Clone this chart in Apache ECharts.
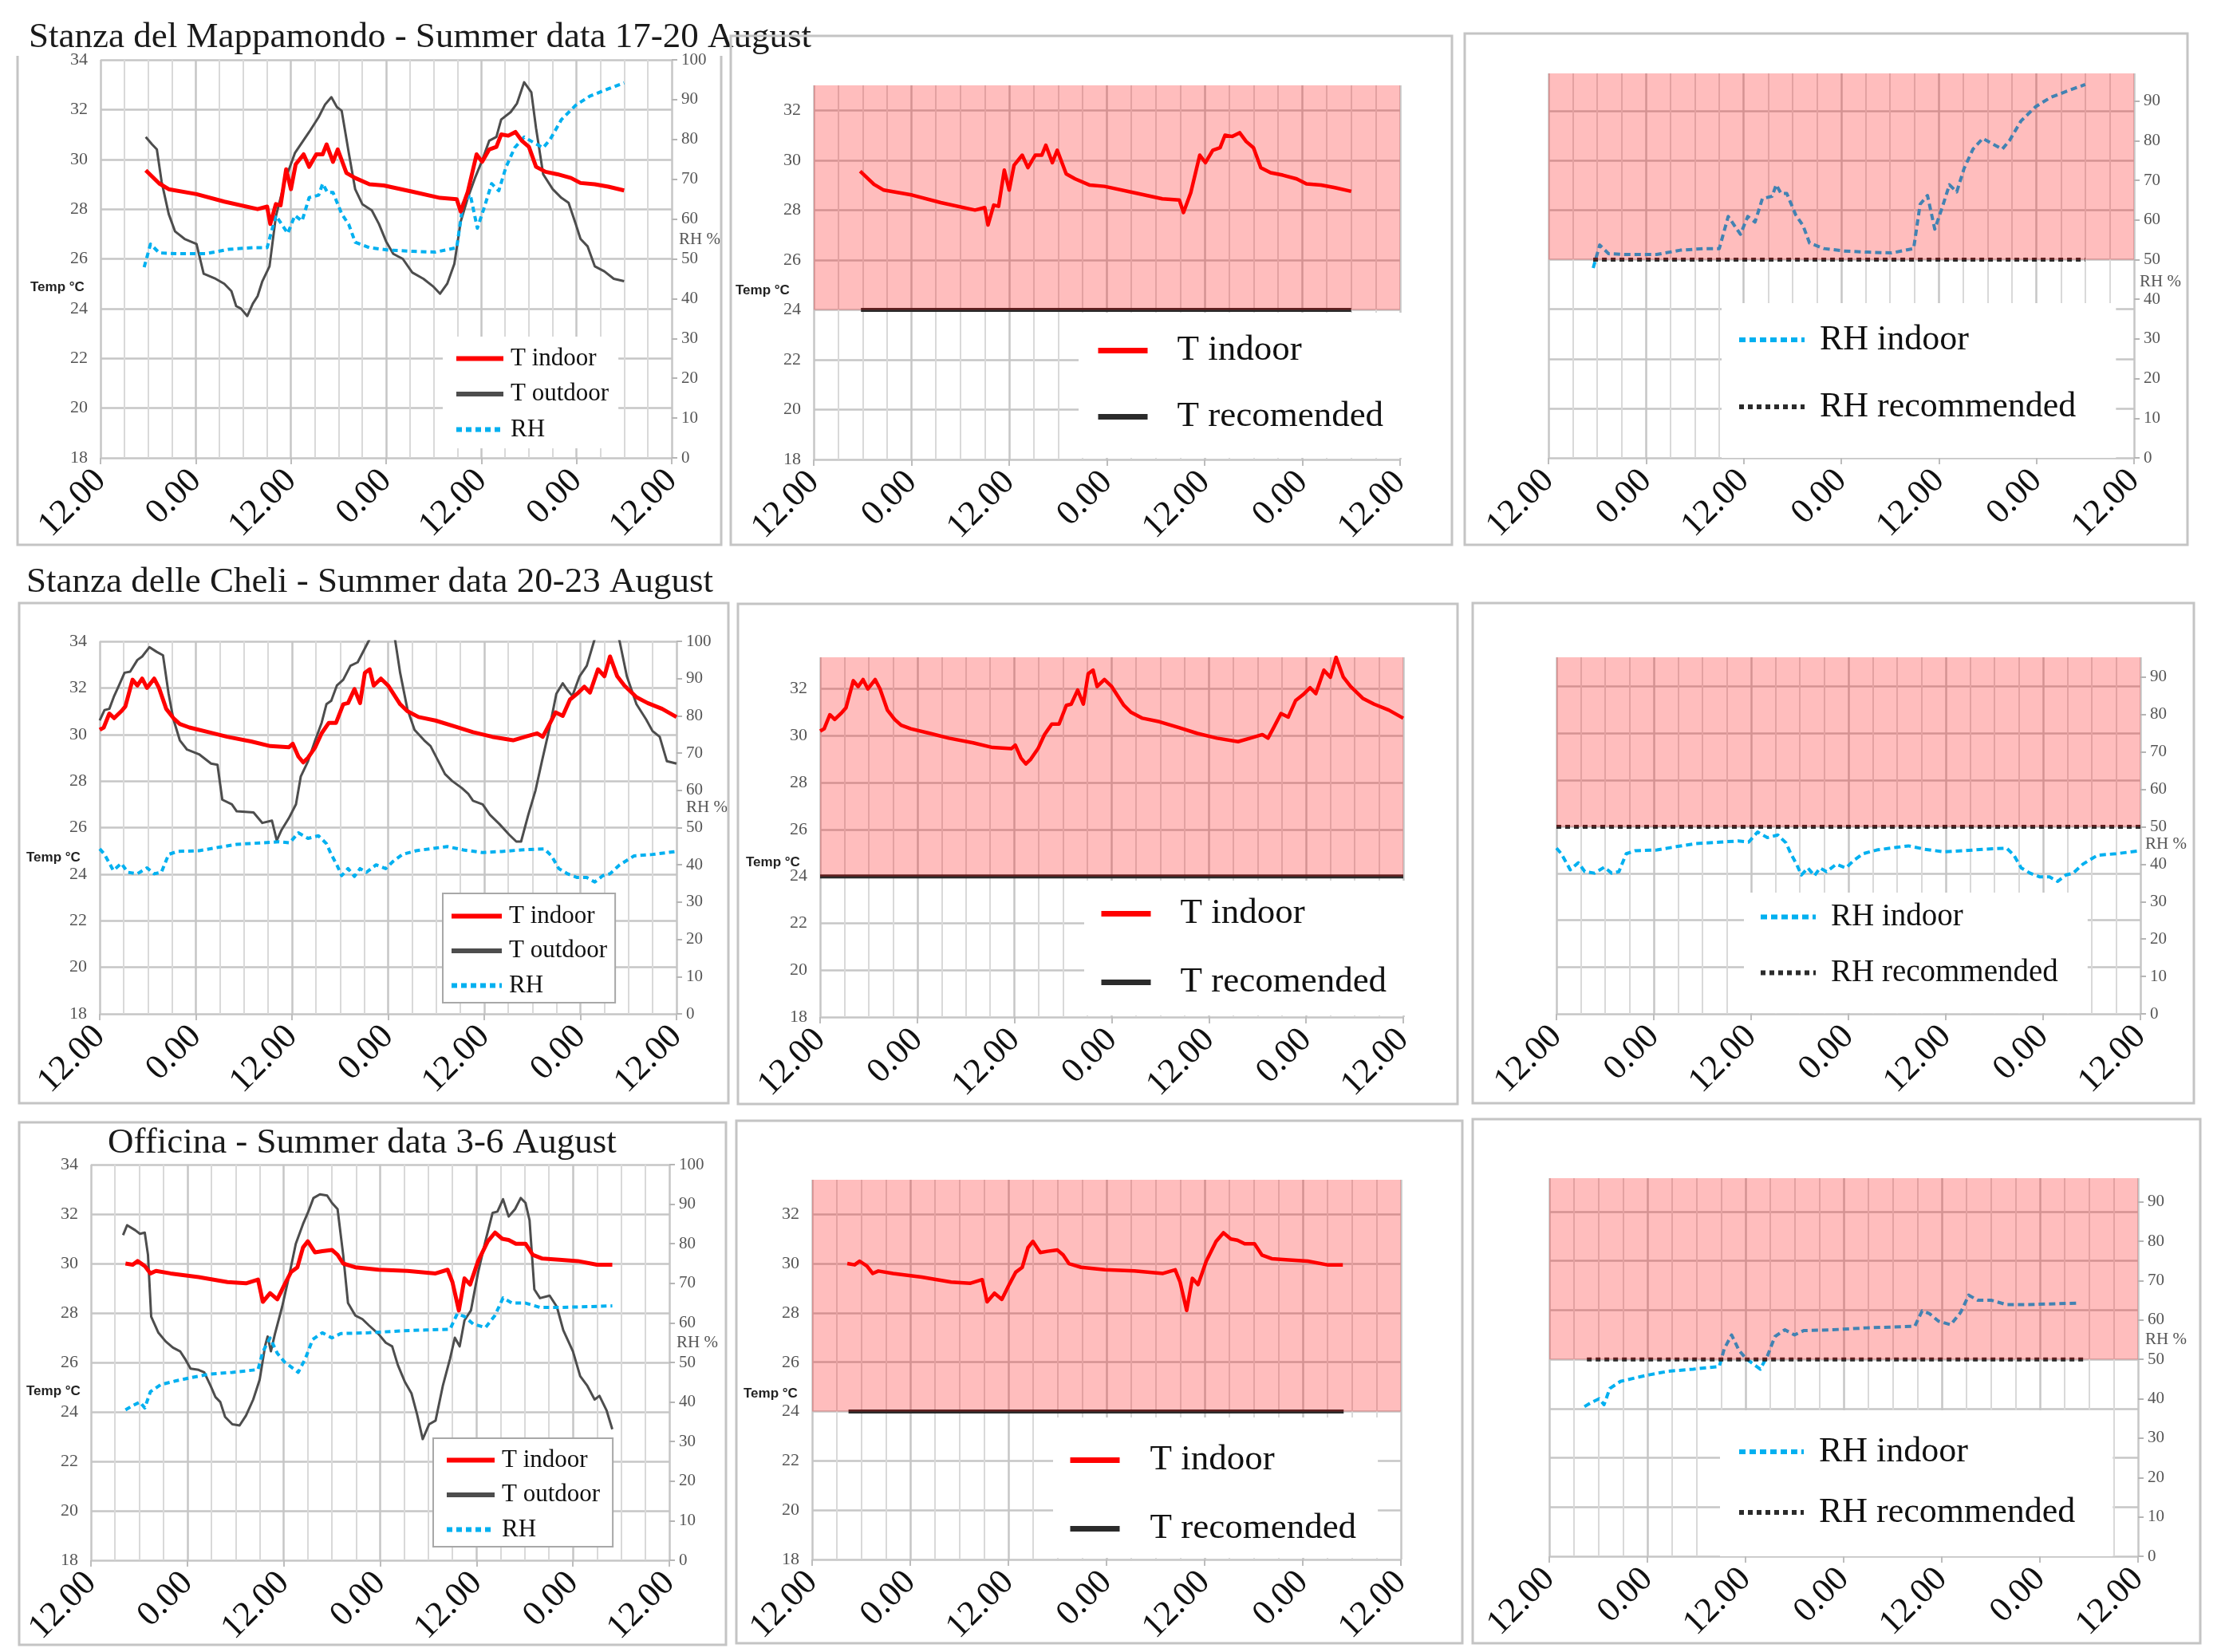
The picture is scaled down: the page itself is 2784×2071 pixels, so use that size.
<!DOCTYPE html>
<html>
<head>
<meta charset="utf-8">
<script src="https://cdn.jsdelivr.net/npm/echarts@6.0.0/dist/echarts.min.js"></script>
<style>html,body{margin:0;padding:0;background:#fff}#c{width:2784px;height:2071px}</style>
</head>
<body>
<div id="c"></div>
<script>
// ---------------- DATA ----------------
const xTickLabels = ['12.00','0.00','12.00','0.00','12.00','0.00','12.00'];
const titles = [
  'Stanza del Mappamondo - Summer data 17-20 August',
  'Stanza delle Cheli - Summer data 20-23 August',
  'Officina - Summer data 3-6 August'
];
const legendLeftNames = ['T indoor','T outdoor','RH'];
const legendMidNames = ['T indoor','T recomended'];
const legendRightNames = ['RH indoor','RH recommended'];
const tRecommended = 24;
const rhRecommended = 50;

// Stanza del Mappamondo (hours from 12:00 of first day)
const mappamondoTin = [[5.7,29.56],[7.4,29.03],[8.6,28.8],[12.1,28.6],[15.6,28.3],[19.8,28.0],[21,28.1],[21.4,27.4],[22.1,28.2],[22.7,28.15],[23.4,29.6],[24,28.8],[24.6,29.8],[25.6,30.2],[26.3,29.7],[27.2,30.2],[28,30.2],[28.5,30.6],[29.3,29.9],[29.9,30.4],[31,29.45],[32.1,29.25],[33.9,29.0],[35.7,28.95],[39.3,28.7],[42.8,28.45],[44.9,28.4],[45.4,27.9],[46.3,28.7],[47.4,30.2],[48.1,29.9],[49,30.4],[49.9,30.5],[50.5,31.0],[51.4,30.95],[52.3,31.1],[53.1,30.75],[54,30.5],[54.9,29.7],[56.1,29.5],[57.6,29.4],[59.3,29.25],[60.5,29.05],[62.3,29.0],[64,28.9],[66,28.75]];
const mappamondoTout = [[5.7,30.9],[6.5,30.6],[7.1,30.4],[7.7,29.1],[8.6,27.8],[9.4,27.1],[10.6,26.8],[12.1,26.6],[13,25.4],[14.5,25.2],[15.6,25.0],[16.5,24.7],[17.1,24.1],[17.7,24.0],[18.5,23.7],[19.2,24.2],[19.8,24.5],[20.4,25.1],[21.3,25.7],[22.1,27.7],[23.3,29.2],[24.5,30.25],[26.3,31.1],[27.5,31.7],[28.3,32.2],[29.1,32.5],[29.8,32.1],[30.4,31.95],[31.3,30.25],[32.1,28.8],[33,28.2],[34.2,27.95],[35.1,27.4],[36,26.7],[36.9,26.2],[38.1,26.0],[39.3,25.45],[40.7,25.2],[41.9,24.9],[42.8,24.6],[43.7,25.0],[44.6,25.8],[45.4,27.5],[46.3,28.45],[47.2,29.25],[48.1,29.95],[49,30.75],[49.9,30.9],[50.5,31.6],[51.7,31.9],[52.5,32.25],[53.4,33.1],[54.3,32.7],[54.9,31.25],[55.8,29.4],[57,28.8],[58.1,28.45],[59,28.25],[59.9,27.4],[60.5,26.8],[61.4,26.5],[62.3,25.7],[63.5,25.5],[64.7,25.2],[66,25.1]];
const mappamondoRH = [[5.5,47.9],[6.3,53.7],[7.4,51.5],[9.7,51.3],[13.3,51.3],[16.2,52.4],[19.2,52.8],[21,52.8],[22.1,60.9],[23.6,56.4],[24.5,60.9],[25.4,59.5],[26.3,65.4],[27.5,66],[28,68.9],[28.6,66.7],[29.3,66.7],[30.4,61.3],[31.3,58.6],[32.1,54.2],[33.9,52.8],[36.3,52.2],[39.3,51.9],[42.2,51.7],[44.9,52.8],[45.7,64],[46.6,66.2],[47.5,57.7],[48.4,63.1],[49.3,68.9],[50.2,67.1],[51.1,73],[52.2,77.9],[53.4,80.6],[54.6,79.2],[55.8,77.9],[56.7,80.1],[58.1,85],[59.9,88.6],[61.7,90.9],[64,92.7],[66,94.2]];
const mappamondoTRecSpan = [5.8, 66];
const mappamondoRHRecSpan = [5.5, 66];
const mappamondoTBand = [24, 33];
const mappamondoRHBand = [50, 97];

// Stanza delle Cheli
const cheliTin = [[0,30.2],[0.5,30.3],[1.2,30.9],[1.8,30.7],[2.7,31.0],[3.2,31.2],[4.1,32.35],[4.7,32.1],[5.3,32.4],[5.9,32.0],[6.8,32.4],[7.4,32.0],[8.3,31.1],[9.2,30.7],[10,30.45],[11.2,30.3],[13.6,30.1],[15.9,29.9],[18.9,29.7],[21.3,29.5],[23.6,29.45],[24.1,29.6],[24.8,29.05],[25.4,28.8],[26,29.0],[26.9,29.45],[27.7,30.05],[28.6,30.5],[29.5,30.5],[30.4,31.3],[31,31.35],[31.8,31.95],[32.5,31.35],[33.1,32.65],[33.7,32.8],[34.2,32.1],[35.1,32.4],[36,32.1],[37.5,31.3],[38.4,31.0],[39.8,30.75],[41.9,30.6],[44.3,30.35],[46.6,30.1],[49,29.9],[51.6,29.75],[53.1,29.9],[54.6,30.05],[55.3,29.9],[56,30.35],[56.9,30.95],[57.8,30.8],[58.7,31.5],[59.6,31.75],[60.5,32.05],[61.2,31.8],[62.2,32.8],[63,32.5],[63.7,33.35],[64.6,32.5],[65.5,32.1],[67,31.6],[68.4,31.35],[70.2,31.1],[72,30.75]];
const cheliTout = [[0,30.6],[0.6,31.05],[1.2,31.1],[1.8,31.65],[2.4,32.1],[3.1,32.65],[3.8,32.7],[4.7,33.2],[5.3,33.35],[6.2,33.75],[7.1,33.55],[7.9,33.4],[8.6,31.75],[9.2,30.65],[10,29.75],[10.9,29.35],[12.4,29.15],[13.9,28.75],[14.7,28.7],[15.3,27.2],[16.5,27.0],[17.1,26.7],[19.2,26.65],[20.3,26.2],[21.5,26.3],[22.1,25.45],[22.7,25.9],[23.6,26.4],[24.5,27.0],[25.1,28.2],[26,28.85],[26.9,29.75],[27.7,30.5],[28.3,31.3],[28.9,31.45],[29.6,32.1],[30.4,32.35],[31.3,32.95],[32.2,33.1],[33.1,33.7],[34,34.3],[35.2,35.4],[36.3,35.0],[36.9,34.0],[37.5,32.65],[38.4,31.1],[39.3,30.2],[40.5,29.75],[41.3,29.5],[42.2,28.9],[43.1,28.3],[44,28.0],[45.2,27.7],[46,27.45],[46.6,27.15],[47.8,27.0],[48.7,26.55],[49.9,26.15],[51.1,25.7],[52,25.4],[52.6,25.4],[53.5,26.55],[54.4,27.6],[55.2,28.85],[56.1,30.2],[57,31.75],[57.8,32.2],[58.4,31.9],[59,31.65],[59.9,32.5],[60.8,32.95],[61.7,34.0],[62.8,35.2],[64,35.0],[64.9,34.0],[65.8,32.5],[67,31.3],[68.2,30.65],[69,30.15],[69.9,29.9],[70.8,28.85],[72,28.75]];
const cheliRH = [[0,44.3],[0.6,42.8],[1.7,38.5],[2.7,40.4],[3.5,38.0],[4.7,37.6],[5.9,39.2],[6.8,37.6],[7.7,38.0],[8.6,42.8],[9.7,43.6],[12.4,43.8],[14.8,44.7],[17.1,45.5],[20.1,45.9],[22.4,46.2],[23.7,45.9],[24.8,48.6],[26,47.1],[27.3,47.8],[28.3,45.7],[28.9,42.8],[29.6,40.0],[30.2,37.1],[31,39.0],[31.8,36.9],[32.5,39.0],[33.3,38.0],[34.5,40.0],[35.7,39.0],[36.6,40.9],[37.8,42.8],[39.5,43.8],[41.9,44.5],[43.4,44.9],[45.4,44.0],[47.8,43.3],[50.2,43.6],[52.6,44.0],[55.5,44.3],[56.4,42.4],[57.3,39.0],[58.4,37.6],[59.6,36.6],[60.8,36.6],[61.8,35.4],[62.8,37.1],[63.7,37.6],[64.9,40.0],[66.7,42.4],[69,42.8],[72,43.6]];
const cheliTRecSpan = [0, 72];
const cheliRHRecSpan = [0, 72];
const cheliTBand = [24, 33.35];
const cheliRHBand = [50, 95.3];

// Officina
const officinaTin = [[4.3,30.0],[5.2,29.95],[5.8,30.1],[6.7,29.9],[7.4,29.6],[8.1,29.7],[9.9,29.6],[13.4,29.45],[17,29.25],[19.3,29.2],[20.8,29.35],[21.4,28.45],[22.3,28.8],[23.2,28.55],[24.1,29.15],[24.9,29.65],[25.7,29.85],[26.4,30.65],[27,30.9],[27.9,30.45],[28.8,30.5],[30,30.55],[30.7,30.35],[31.4,30.0],[32.9,29.85],[35.8,29.75],[39.4,29.7],[42.9,29.6],[44.4,29.75],[45,29.25],[45.8,28.1],[46.5,29.4],[47.2,29.15],[48.2,30.1],[49.4,30.9],[50.3,31.25],[51.2,31.0],[52,30.95],[52.9,30.8],[54.1,30.8],[55,30.35],[56.2,30.2],[58.3,30.15],[60.6,30.1],[63,29.95],[64.9,29.95]];
const officinaTout = [[4,31.15],[4.5,31.55],[5.5,31.35],[6.1,31.2],[6.7,31.25],[7.1,30.35],[7.5,27.85],[8.4,27.2],[9.3,26.85],[10.2,26.6],[11.1,26.45],[11.7,26.15],[12.4,25.75],[13.4,25.7],[14.1,25.6],[14.9,25.05],[15.5,24.6],[16.1,24.4],[16.7,23.8],[17.6,23.5],[18.5,23.45],[19.3,23.85],[20.2,24.5],[21,25.3],[21.7,26.7],[22,27.05],[22.4,26.45],[22.9,27.15],[23.8,28.25],[24.6,29.4],[25.5,30.8],[26.4,31.6],[27,32.05],[27.7,32.65],[28.5,32.8],[29.4,32.75],[30,32.45],[30.7,32.2],[31.4,30.35],[32,28.4],[32.9,27.9],[33.8,27.75],[34.6,27.5],[35.8,27.15],[36.7,26.8],[37.5,26.65],[38.2,25.9],[39.1,25.2],[39.9,24.75],[40.6,23.9],[41.3,22.9],[42.1,23.5],[42.9,23.65],[43.8,25.05],[44.7,26.15],[45.3,27.0],[45.9,26.65],[46.5,27.7],[47.3,28.1],[48.2,29.65],[49.1,30.9],[50,32.05],[50.6,32.1],[51.3,32.6],[52,31.9],[52.8,32.2],[53.5,32.65],[54.1,32.45],[54.6,31.75],[55.2,28.95],[55.9,28.6],[57.1,28.7],[58,28.25],[58.8,27.3],[60,26.45],[60.9,25.45],[61.8,25.05],[62.7,24.5],[63.3,24.65],[64.2,24.05],[64.9,23.3]];
const officinaRH = [[4.3,38.0],[5.2,39.1],[6.1,40.0],[6.7,38.5],[7.4,42.6],[8.7,44.4],[10.5,45.3],[12.3,46.1],[14.6,47.0],[17.6,47.5],[20.8,48.2],[21.4,52.7],[22.3,56.2],[23.2,52.3],[24.1,50.1],[25.8,47.5],[26.7,51.0],[27.6,55.8],[28.8,57.5],[30,56.2],[31.1,57.3],[34.6,57.5],[38.8,58.0],[41.7,58.2],[44.7,58.4],[45.6,62.3],[46.5,61.6],[47.6,59.7],[49.1,58.8],[50.3,61.9],[51.3,66.3],[52.4,65.0],[54.1,65.0],[55.9,63.9],[58.3,63.9],[61.8,64.1],[64.9,64.3]];
const officinaTRecSpan = [4.45, 65];
const officinaRHRecSpan = [4.6, 65.3];
const officinaTBand = [24, 33.4];
const officinaRHBand = [50, 96];

const rowsData = [
  {tin: mappamondoTin, tout: mappamondoTout, rh: mappamondoRH, tRec: mappamondoTRecSpan, rhRec: mappamondoRHRecSpan, tBand: mappamondoTBand, rhBand: mappamondoRHBand},
  {tin: cheliTin, tout: cheliTout, rh: cheliRH, tRec: cheliTRecSpan, rhRec: cheliRHRecSpan, tBand: cheliTBand, rhBand: cheliRHBand},
  {tin: officinaTin, tout: officinaTout, rh: officinaRH, tRec: officinaTRecSpan, rhRec: officinaRHRecSpan, tBand: officinaTBand, rhBand: officinaRHBand}
];

// ---------------- LAYOUT / STYLE ----------------
const SERIF = '"Liberation Serif", "Times New Roman", serif';
const SANS = '"Liberation Sans", Arial, sans-serif';
const RED = '#ff0000', GREY = '#4d4d4d', CYAN = '#00b0f0', BLACK = '#2b2b2b';
const SHADE = 'rgba(255,0,0,0.26)';

const layout = [
  { L:[126,75,716,499], M:[1020,107,735,469], R:[1941,92,734,482],
    legL:{left:555, top:422, pad:[12,12,8,14], iw:59, gap:13.5, border:false},
    legM:{left:1352, top:392, pad:[25,24,29,21], iw:62, gap:38, fs:45, tp:32},
    legR:{left:2158, top:380, pad:[24,50,42,19], iw:82, ih:44, gap:40, fs:44, tp:14},
    title:[36,47], tempL:[38,360], tempM:[922,364], rhL:[851,300], rhR:[2682,353],
    boxL:'open', boxes:[[22,70,904,683],[916,45,1820,683],[1836,42,2742,683]] },
  { L:[125,804,723,467], M:[1028,824,731,451], R:[1951,824,732,447],
    legL:{left:555, top:1120, pad:[13,10,6,8], iw:63, gap:12.5, border:true},
    legM:{left:1359, top:1104, pad:[19,24,19,18], iw:62, gap:41, fs:45, tp:32},
    legR:{left:2186, top:1119, pad:[11,37,31,18], iw:69, ih:39, gap:31, fs:39, tp:14},
    title:[33,730], tempL:[33,1075], tempM:[935,1081], rhL:[860,1012], rhR:[2689,1058],
    boxes:[[24,756,913,1383],[925,757,1827,1384],[1846,756,2750,1383]] },
  { L:[114,1460,725,496], M:[1018,1479,738,476], R:[1942,1477,738,474],
    legL:{left:543, top:1803, pad:[12,16,6,14], iw:60, gap:12.5, border:true},
    legM:{left:1320, top:1777, pad:[31,27,14,18], iw:62, gap:41, fs:45, tp:33},
    legR:{left:2156, top:1768, pad:[30,47,33,21], iw:81, ih:44, gap:32, fs:44, tp:14},
    title:[135,1433], tempL:[33,1744], tempM:[932,1747], rhL:[848,1683], rhR:[2689,1679],
    boxes:[[24,1407,910,2062],[923,1405,1833,2060],[1846,1403,2758,2060]] }
];

// ---------------- BUILD ----------------
const grids = [], xAxes = [], yAxes = [], series = [], legends = [], graphics = [];

function xAxisFor(gi) {
  return { gridIndex: gi, type: 'value', min: 0, max: 72, interval: 12,
    axisLine: {show: false},
    axisTick: {show: true, length: 8, lineStyle: {color: '#bdbdbd', width: 2}},
    axisLabel: {rotate: 45, margin: 22, fontSize: 44, fontFamily: SERIF, color: '#111',
      formatter: v => xTickLabels[Math.round(v / 12)] || ''},
    splitLine: {show: true, lineStyle: {color: '#c6c6c6', width: 2.5}},
    minorTick: {show: false, splitNumber: 4},
    minorSplitLine: {show: true, lineStyle: {color: '#d9d9d9', width: 2}} };
}
function tempAxis(gi, max, showLabels) {
  return { gridIndex: gi, type: 'value', min: 18, max: max, interval: 2, position: 'left',
    axisLine: {show: false}, axisTick: {show: false},
    axisLabel: {show: showLabels, fontSize: 22, fontFamily: SERIF, color: '#555', margin: 16, showMaxLabel: max === 34},
    splitLine: {show: true, showMaxLine: max === 34, lineStyle: {color: '#c6c6c6', width: 2.5}} };
}
function rhAxis(gi, max) {
  return { gridIndex: gi, type: 'value', min: 0, max: max, interval: 10, position: 'right',
    axisLine: {show: false},
    axisTick: {show: true, length: 7, lineStyle: {color: '#b5b5b5', width: 2}},
    axisLabel: {fontSize: 21, fontFamily: SERIF, color: '#555', margin: 12, showMaxLabel: max === 100},
    splitLine: {show: false} };
}
function lineSeries(name, xi, yi, data, color, width, type) {
  return { name, type: 'line', xAxisIndex: xi, yAxisIndex: yi, data,
    showSymbol: false, symbol: 'none', z: 2, clip: true, silent: true,
    lineStyle: {color, width, type: type || 'solid', join: 'round'}, itemStyle: {color} };
}
function shadeSeries(xi, yi, band) {
  return { type: 'custom', xAxisIndex: xi, yAxisIndex: yi, z: 10, silent: true,
    data: [[0, 72, band[0], band[1]]], encode: {x: [0, 1], y: [2, 3]},
    renderItem: (params, api) => {
      const a = api.coord([api.value(0), api.value(3)]);
      const b = api.coord([api.value(1), api.value(2)]);
      return {type: 'rect', shape: {x: a[0], y: a[1], width: b[0] - a[0], height: b[1] - a[1]},
        style: {fill: SHADE}};
    } };
}
function txt(x, y, text, font, fill) {
  return {type: 'text', x, y, silent: true, style: {text, font, fill, textVerticalAlign: 'middle'}};
}
function legendBase(l, names, fs, ih, tp, lw) {
  return {orient: 'vertical', left: l.left, top: l.top, data: names,
    itemWidth: l.iw, itemHeight: ih, itemGap: l.gap, padding: l.pad, selectedMode: false,
    itemStyle: {opacity: 0}, lineStyle: {width: lw}, backgroundColor: '#fff',
    textStyle: {fontFamily: SERIF, fontSize: fs, color: '#111', padding: [0, 0, 0, tp]}};
}

rowsData.forEach((d, r) => {
  const lay = layout[r];
  const gL = 3 * r, gM = 3 * r + 1, gR = 3 * r + 2;
  const yb = 5 * r;
  [lay.L, lay.M, lay.R].forEach(g => grids.push({left: g[0], top: g[1], width: g[2], height: g[3]}));
  xAxes.push(xAxisFor(gL), xAxisFor(gM), xAxisFor(gR));
  const tTop = d.tBand[1];
  const rhTop = d.rhBand[1];
  yAxes.push(tempAxis(gL, 34, true));                    // yb
  yAxes.push(rhAxis(gL, 100));                           // yb+1
  yAxes.push(tempAxis(gM, tTop, true));                  // yb+2
  yAxes.push(tempAxis(gR, 18 + 0.16 * rhTop, false));    // yb+3 (grid lines only)
  yAxes.push(rhAxis(gR, rhTop));                         // yb+4

  // left panel
  series.push(lineSeries('T outdoor', gL, yb, d.tout, GREY, 3));
  series.push(lineSeries('RH', gL, yb + 1, d.rh, CYAN, 4, [7, 5]));
  series.push(lineSeries('T indoor', gL, yb, d.tin, RED, 5));
  // middle panel
  series.push(lineSeries('T indoor', gM, yb + 2, d.tin, RED, 4.5));
  series.push(lineSeries('T recomended', gM, yb + 2, [[d.tRec[0], tRecommended], [d.tRec[1], tRecommended]], BLACK, 5));
  series.push(shadeSeries(gM, yb + 2, d.tBand));
  // right panel
  series.push(lineSeries('RH indoor', gR, yb + 4, d.rh, CYAN, 4, [8, 5]));
  series.push(lineSeries('RH recommended', gR, yb + 4, [[d.rhRec[0], rhRecommended], [d.rhRec[1], rhRecommended]], BLACK, 5, [6, 5]));
  series.push(shadeSeries(gR, yb + 4, d.rhBand));

  // legends
  const lL = legendBase(lay.legL, legendLeftNames, 31, 31, 4, 6);
  lL.borderColor = lay.legL.border ? '#a8a8a8' : 'rgba(0,0,0,0)';
  lL.borderWidth = 2;
  legends.push(lL);
  legends.push(legendBase(lay.legM, legendMidNames, lay.legM.fs, 46, lay.legM.tp, 7));
  legends.push(legendBase(lay.legR, legendRightNames, lay.legR.fs, lay.legR.ih, lay.legR.tp, 6));

  // texts
  graphics.push(txt(lay.title[0], lay.title[1], titles[r], '45px ' + SERIF, '#1a1a1a'));
  graphics.push(txt(lay.tempL[0], lay.tempL[1], 'Temp °C', 'bold 17px ' + SANS, '#222'));
  graphics.push(txt(lay.tempM[0], lay.tempM[1], 'Temp °C', 'bold 17px ' + SANS, '#222'));
  graphics.push(txt(lay.rhL[0], lay.rhL[1], 'RH %', '21px ' + SERIF, '#555'));
  graphics.push(txt(lay.rhR[0], lay.rhR[1], 'RH %', '21px ' + SERIF, '#555'));

  // panel frames
  lay.boxes.forEach((b, i) => {
    if (i === 0 && lay.boxL === 'open') {
      graphics.push({type: 'polyline', silent: true, shape: {points: [[b[0], b[1]], [b[0], b[3]], [b[2], b[3]], [b[2], b[1]]]},
        style: {fill: null, stroke: '#c4c4c4', lineWidth: 3}});
    } else {
      graphics.push({type: 'rect', silent: true, shape: {x: b[0], y: b[1], width: b[2] - b[0], height: b[3] - b[1]},
        style: {fill: null, stroke: '#c4c4c4', lineWidth: 3}});
    }
  });
});

const chart = echarts.init(document.getElementById('c'), null, {renderer: 'canvas'});
chart.setOption({
  backgroundColor: '#fff',
  animation: false,
  grid: grids,
  xAxis: xAxes,
  yAxis: yAxes,
  legend: legends,
  series: series,
  graphic: {elements: graphics}
});
</script>
</body>
</html>
